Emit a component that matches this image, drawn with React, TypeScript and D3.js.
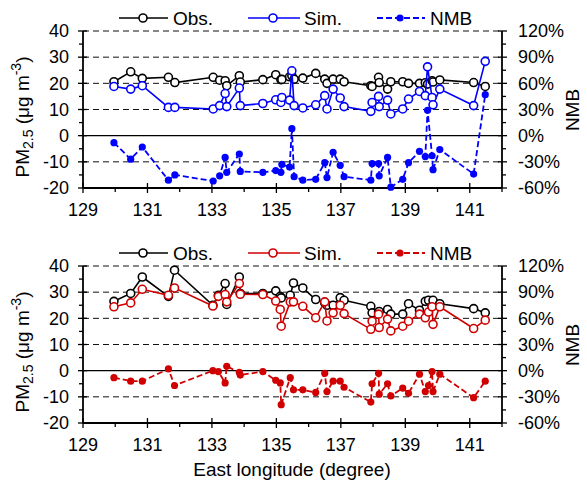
import React from 'react'
import * as d3 from 'd3'

// station longitudes and values, upper panel (blue)
const lonTop = [129.96, 130.48, 130.84, 131.65, 131.85, 133.04, 133.24, 133.41, 133.46, 133.85, 133.88, 134.58, 134.98, 135.14, 135.17, 135.41, 135.48, 135.55, 135.82, 136.22, 136.5, 136.57, 136.76, 136.98, 137.1, 137.93, 137.97, 138.17, 138.19, 138.45, 138.55, 138.92, 139.1, 139.44, 139.62, 139.69, 139.83, 139.86, 140.07, 141.12, 141.48]
const obsTop = [20.6, 24.4, 21.9, 22.3, 20.3, 22.3, 21.2, 21.0, 19.1, 22.9, 20.5, 21.4, 23.3, 21.4, 21.5, 22.5, 22.9, 21.6, 22.0, 23.8, 21.6, 20.0, 21.6, 21.6, 20.6, 19.1, 18.8, 22.3, 20.3, 17.8, 20.6, 20.6, 20.0, 20.0, 20.2, 19.7, 21.0, 20.5, 21.3, 20.3, 18.8]
const simTop = [18.8, 17.8, 19.1, 10.8, 10.8, 10.2, 11.5, 16.1, 11.1, 18.2, 11.5, 12.3, 13.7, 12.7, 14.6, 13.6, 24.8, 11.5, 10.6, 11.8, 15.3, 10.2, 17.8, 14.4, 11.1, 9.3, 12.7, 15.0, 11.1, 13.6, 8.3, 10.2, 14.0, 16.9, 15.3, 26.3, 14.6, 11.8, 17.8, 11.5, 28.4]
const nmbTop = [-8, -27, -13, -51, -45, -52, -46, -25, -42, -21, -41, -42, -40, -42, -33, -36, 8, -47, -51, -50, -31, -48, -19, -34, -47, -51, -32, -32, -46, -25, -59, -50, -31, -18, -24, 29, -23, -39, -16, -44, 47]

// lower panel (red)
const lonBot = [129.96, 130.48, 130.84, 131.65, 131.84, 133.03, 133.2, 133.41, 133.46, 133.85, 133.88, 134.58, 134.98, 135.12, 135.15, 135.43, 135.53, 135.82, 136.22, 136.5, 136.57, 136.76, 136.98, 137.1, 137.93, 137.97, 138.17, 138.19, 138.45, 138.55, 138.92, 139.1, 139.44, 139.62, 139.72, 139.83, 139.86, 140.07, 141.12, 141.48]
const obsBot = [26.5, 29.5, 35.8, 28.4, 38.4, 25.0, 28.8, 33.3, 25.3, 35.8, 29.5, 29.5, 30.5, 28.4, 27.8, 28.8, 33.5, 31.6, 27.2, 25.9, 25.0, 25.0, 27.9, 26.9, 24.6, 22.1, 22.4, 22.6, 23.4, 21.6, 21.6, 25.6, 23.1, 26.5, 26.9, 24.8, 26.9, 25.6, 23.7, 22.1]
const simBot = [24.4, 25.9, 31.1, 28.8, 31.6, 24.7, 28.4, 29.1, 26.3, 33.3, 29.2, 29.1, 26.6, 23.4, 17.0, 26.3, 26.3, 24.6, 20.2, 26.3, 19.0, 22.1, 25.0, 21.8, 15.8, 18.9, 21.6, 16.5, 19.7, 15.2, 17.0, 18.9, 21.6, 20.2, 22.4, 24.4, 17.7, 24.4, 16.1, 19.3]
const nmbBot = [-8, -12, -12, 2, -17, 0, -1, -14, 5, -2, -5, -1, -11, -14, -39, -8, -22, -22, -25, -3, -24, -12, -12, -19, -36, -15, -3, -27, -15, -29, -20, -26, -4, -24, -17, -1, -24, -4, -31, -12]

const xTicks = [129, 131, 133, 135, 137, 139, 141]
const xMinor = [130, 132, 134, 136, 138, 140, 142]
const yTicks = [-20, -10, 0, 10, 20, 30, 40]
const yMinor = [-15, -5, 5, 15, 25, 35]
const gridVals = [-10, 10, 20, 30, 40]
const nmbTicks = [-60, -30, 0, 30, 60, 90, 120]
const nmbMinor = [-45, -15, 15, 45, 75, 105]

const FONT = 'Arial, "Liberation Sans", sans-serif'
const X0 = 83, X1 = 502

function Panel({ top, lon, obs, sim, nmb, color }) {
    const x = d3.scaleLinear().domain([129, 142]).range([X0, X1])
    const y = d3.scaleLinear().domain([-20, 40]).range([top + 157, top])
    const yR = d3.scaleLinear().domain([-60, 120]).range([top + 157, top])
    const bottom = y(-20)

    const obsLine = d3.line().x((d, i) => x(lon[i])).y(d => y(d))
    const nmbLine = d3.line().x((d, i) => x(lon[i])).y(d => yR(d))
    const ly = top - 13
    const r = 4

    return <g fontFamily={FONT}>
        {/* grid */}
        {gridVals.map(v => <line key={v} x1={X0} x2={X1} y1={y(v)} y2={y(v)} stroke="#111" strokeWidth={1} strokeDasharray="6,4" />)}
        <line x1={X0} x2={X1} y1={y(0)} y2={y(0)} stroke="#000" strokeWidth={1.3} />

        {/* axes */}
        <line x1={X0} x2={X0} y1={top} y2={bottom} stroke="#000" strokeWidth={1.8} />
        <line x1={X1} x2={X1} y1={top} y2={bottom} stroke="#000" strokeWidth={1.8} />
        <line x1={X0} x2={X1} y1={bottom} y2={bottom} stroke="#000" strokeWidth={1.8} />
        {yTicks.map(v => <g key={v}>
            <line x1={X0 - 5} x2={X0 + 4} y1={y(v)} y2={y(v)} stroke="#000" strokeWidth={1.3} />
            <text x={69} y={y(v)} dy="0.35em" textAnchor="end" fontSize={18}>{v}</text>
        </g>)}
        {yMinor.map(v => <line key={v} x1={X0 - 4} x2={X0} y1={y(v)} y2={y(v)} stroke="#000" strokeWidth={1.3} />)}
        {nmbTicks.map(v => <g key={v}>
            <line x1={X1 - 4} x2={X1 + 5} y1={yR(v)} y2={yR(v)} stroke="#000" strokeWidth={1.3} />
            <text x={518} y={yR(v)} dy="0.35em" fontSize={18}>{v}%</text>
        </g>)}
        {nmbMinor.map(v => <line key={v} x1={X1} x2={X1 + 4} y1={yR(v)} y2={yR(v)} stroke="#000" strokeWidth={1.3} />)}
        {xTicks.map(v => <g key={v}>
            <line x1={x(v)} x2={x(v)} y1={bottom - 5} y2={bottom + 5} stroke="#000" strokeWidth={1.3} />
            <text x={x(v)} y={bottom + 28} textAnchor="middle" fontSize={18}>{v}</text>
        </g>)}
        {xMinor.map(v => <line key={v} x1={x(v)} x2={x(v)} y1={bottom} y2={bottom + 4} stroke="#000" strokeWidth={1.3} />)}

        {/* axis titles */}
        <text transform={`translate(29,${top + 86}) rotate(-90)`} textAnchor="middle" fontSize={19}>
            PM<tspan fontSize={14} dy={4}>2.5</tspan><tspan dy={-4}> (μg m</tspan><tspan fontSize={14} dy={-8}>-3</tspan><tspan dy={8}>)</tspan>
        </text>
        <text transform={`translate(579,${top + 79}) rotate(-90)`} textAnchor="middle" fontSize={19}>NMB</text>

        {/* series */}
        <path d={nmbLine(nmb)} fill="none" stroke={color} strokeWidth={1.8} strokeDasharray="6,3" />
        {nmb.map((v, i) => <circle key={i} cx={x(lon[i])} cy={yR(v)} r={3.6} fill={color} />)}
        <path d={obsLine(obs)} fill="none" stroke="#000" strokeWidth={1.6} />
        {obs.map((v, i) => <circle key={i} cx={x(lon[i])} cy={y(v)} r={r} fill="#fff" stroke="#000" strokeWidth={1.6} />)}
        <path d={obsLine(sim)} fill="none" stroke={color} strokeWidth={1.6} />
        {sim.map((v, i) => <circle key={i} cx={x(lon[i])} cy={y(v)} r={r} fill="#fff" stroke={color} strokeWidth={1.6} />)}

        {/* legend */}
        <line x1={119} x2={168} y1={ly} y2={ly} stroke="#000" strokeWidth={1.6} />
        <circle cx={143} cy={ly} r={r} fill="#fff" stroke="#000" strokeWidth={1.6} />
        <text x={173} y={ly} dy="0.35em" fontSize={19}>Obs.</text>
        <line x1={248} x2={300} y1={ly} y2={ly} stroke={color} strokeWidth={1.6} />
        <circle cx={273} cy={ly} r={r} fill="#fff" stroke={color} strokeWidth={1.6} />
        <text x={304} y={ly} dy="0.35em" fontSize={19}>Sim.</text>
        <line x1={377} x2={425} y1={ly} y2={ly} stroke={color} strokeWidth={1.8} strokeDasharray="6,3" />
        <circle cx={400} cy={ly} r={3.6} fill={color} />
        <text x={430} y={ly} dy="0.35em" fontSize={19}>NMB</text>
    </g>
}

export default function App() {
    return <svg width={587} height={484} style={{ position: 'absolute', left: 0, top: 0, background: '#fff' }}>
        <rect width={587} height={484} fill="#fff" />
        <Panel top={31} lon={lonTop} obs={obsTop} sim={simTop} nmb={nmbTop} color="#0000ff" />
        <Panel top={266} lon={lonBot} obs={obsBot} sim={simBot} nmb={nmbBot} color="#d00000" />
        <text x={292} y={476} textAnchor="middle" fontSize={19} fontFamily={FONT}>East longitude (degree)</text>
    </svg>
}
